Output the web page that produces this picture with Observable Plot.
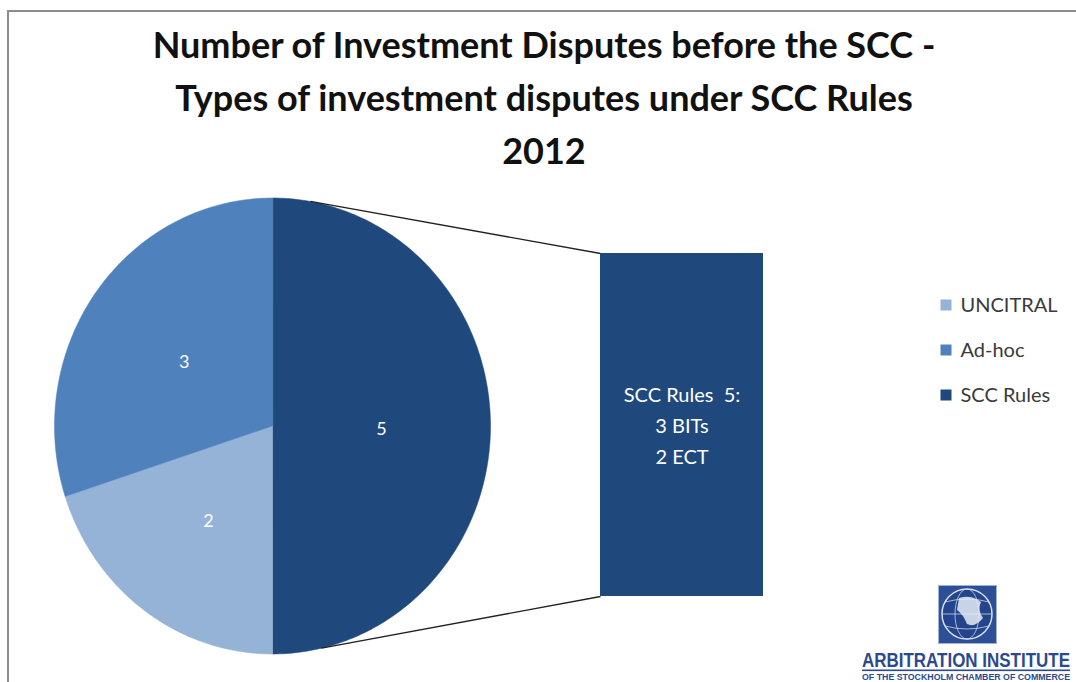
<!DOCTYPE html>
<html>
<head>
<meta charset="utf-8">
<script src="https://cdn.jsdelivr.net/npm/d3@7"></script>
<script src="https://cdn.jsdelivr.net/npm/@observablehq/plot@0.6"></script>
<style>
  html, body { margin: 0; padding: 0; background: #fff; }
  #wrap { position: relative; width: 1076px; height: 682px; overflow: hidden; font-family: Lato, "Open Sans", sans-serif; }
  #frame { position: absolute; z-index: 5; left: 7px; top: 10px; width: 1080px; height: 700px; border-left: 2px solid #8c8c8c; border-top: 2px solid #8c8c8c; pointer-events: none; }
  #title { position: relative; height: 185px; box-sizing: border-box; padding-top: 18px; padding-left: 12px; text-align: center; font-weight: 700; font-size: 36px; line-height: 53px; color: #111; white-space: nowrap; }
  #chart { position: relative; }
  #logo { position: absolute; z-index: 4; left: 856px; top: 582px; }
</style>
</head>
<body>
<div id="wrap">
  <div id="frame"></div>
  <div id="title"></div>
  <div id="chart"></div>
  <svg id="logo" width="220" height="100" viewBox="0 0 220 100">
    <g transform="translate(82,3)">
      <rect x="0.5" y="0.5" width="58" height="58" fill="#2d4f95" stroke="#9fb3d8" stroke-width="1"/>
      <circle cx="29" cy="29" r="25" fill="#24458c" stroke="#d8e0f0" stroke-width="1.5"/>
      <ellipse cx="29" cy="29" rx="12" ry="25" fill="none" stroke="#c9d4ea" stroke-width="0.8"/>
      <line x1="4" y1="29" x2="54" y2="29" stroke="#c9d4ea" stroke-width="0.8"/>
      <path d="M7 17 Q29 11 51 17 M7 41 Q29 47 51 41" fill="none" stroke="#c9d4ea" stroke-width="0.8"/>
      <path d="M21 13 Q33 9 43 17 Q39 25 45 33 Q37 43 29 39 Q25 29 19 25 Z" fill="#e6ecf7" opacity="0.85"/>
    </g>
    <g transform="translate(6,85) scale(0.8,1)">
      <text x="0" y="0" textLength="260" lengthAdjust="spacingAndGlyphs" font-family="'Liberation Sans', Arial, sans-serif" font-weight="700" font-size="20" fill="#2b4a8e">ARBITRATION INSTITUTE</text>
    </g>
    <rect x="6" y="87.5" width="208" height="1.6" fill="#2b4a8e"/>
    <g transform="translate(6,98) scale(0.8,1)">
      <text x="0" y="0" textLength="260" lengthAdjust="spacingAndGlyphs" font-family="'Liberation Sans', Arial, sans-serif" font-weight="700" font-size="9" fill="#2b4a8e">OF THE STOCKHOLM CHAMBER OF COMMERCE</text>
    </g>
  </svg>
</div>
<script>
// ---- data ----
const titleLines = ["Number of Investment Disputes before the SCC -", "Types of investment disputes under SCC Rules", "2012"];
const categories = ["UNCITRAL", "Ad-hoc", "SCC Rules"];
const values = [2, 3, 5];
const colors = ["#95b3d7", "#4f81bd", "#1f497d"];
const pieOrder = ["SCC Rules", "UNCITRAL", "Ad-hoc"];   // clockwise from 12 o'clock
const barCategory = "SCC Rules";
const barLines = ["SCC Rules\u00a0\u00a05:", "3 BITs", "2 ECT"];

// ---- layout ----
const W = 1076, TOP = 185, H = 682 - TOP;
const cx = 272, cy = 425.5 - TOP, rx = 218, ry = 228;
const bar = {x1: 600, x2: 763, y1: 253 - TOP, y2: 596 - TOP};
const connectAngles = [10, 167];

document.getElementById("title").innerHTML = titleLines.map(t => `<div>${t}</div>`).join("");

const color = Object.fromEntries(categories.map((c, i) => [c, colors[i]]));
const value = Object.fromEntries(categories.map((c, i) => [c, values[i]]));
const total = d3.sum(values);
const px = a => cx + rx * Math.sin(a * Math.PI / 180);
const py = a => cy - ry * Math.cos(a * Math.PI / 180);

// slices
let acc = 0;
const slices = pieOrder.map(c => {
  const a0 = acc / total * 360; acc += value[c];
  const a1 = acc / total * 360;
  return {cat: c, a0, a1, mid: (a0 + a1) / 2, v: value[c]};
});
const slicePts = [];
for (const s of slices) {
  slicePts.push({cat: s.cat, x: cx, y: cy});
  const n = Math.ceil(s.a1 - s.a0);
  for (let i = 0; i <= n; i++) {
    const a = s.a0 + (s.a1 - s.a0) * i / n;
    slicePts.push({cat: s.cat, x: px(a), y: py(a)});
  }
}
const sliceLabels = slices.map(s => ({x: cx + 0.5 * rx * Math.sin(s.mid * Math.PI / 180), y: cy - 0.5 * ry * Math.cos(s.mid * Math.PI / 180), text: String(s.v)}));

// bar of pie (single stacked segment for the SCC Rules value)
const barScale = (bar.y2 - bar.y1) / value[barCategory];
const barRect = [{x1: bar.x1, x2: bar.x2, y1: bar.y1, y2: bar.y1 + value[barCategory] * barScale, cat: barCategory}];
const barText = barLines.map((t, i) => ({x: (bar.x1 + bar.x2) / 2, y: (bar.y1 + bar.y2) / 2 + 2 - 31 + i * 31, text: t}));
const connectors = [
  {x1: px(connectAngles[0]), y1: py(connectAngles[0]), x2: bar.x1, y2: bar.y1},
  {x1: px(connectAngles[1]), y1: py(connectAngles[1]), x2: bar.x1, y2: bar.y2}
];

// legend
const legend = categories.map((c, i) => ({cat: c, x: 946, y: 305 - TOP + i * 45}));

const plot = Plot.plot({
  width: W, height: H,
  margin: 0,
  x: {domain: [0, W], range: [0, W], axis: null},
  y: {domain: [0, H], range: [0, H], axis: null},
  color: {type: "identity"},
  style: {fontFamily: "Lato, 'Open Sans', sans-serif", background: "transparent", overflow: "visible"},
  marks: [
    Plot.line(slicePts, {x: "x", y: "y", z: "cat", fill: d => color[d.cat], stroke: d => color[d.cat], strokeWidth: 0.5, curve: "linear-closed"}),
    Plot.text(sliceLabels, {x: "x", y: "y", dy: 3, text: "text", fill: "white", fontSize: 18}),
    Plot.link(connectors, {x1: "x1", y1: "y1", x2: "x2", y2: "y2", stroke: "#222", strokeWidth: 1.3}),
    Plot.rect(barRect, {x1: "x1", x2: "x2", y1: "y1", y2: "y2", fill: d => color[d.cat]}),
    Plot.text(barText, {x: "x", y: "y", text: "text", fill: "white", fontSize: 20}),
    Plot.rect(legend, {x1: d => d.x - 5.5, x2: d => d.x + 5.5, y1: d => d.y - 5.5, y2: d => d.y + 5.5, fill: d => color[d.cat]}),
    Plot.text(legend, {x: d => d.x + 14, y: "y", text: "cat", textAnchor: "start", fill: "#3a3a3a", fontSize: 20})
  ]
});
document.getElementById("chart").appendChild(plot);
</script>
</body>
</html>
